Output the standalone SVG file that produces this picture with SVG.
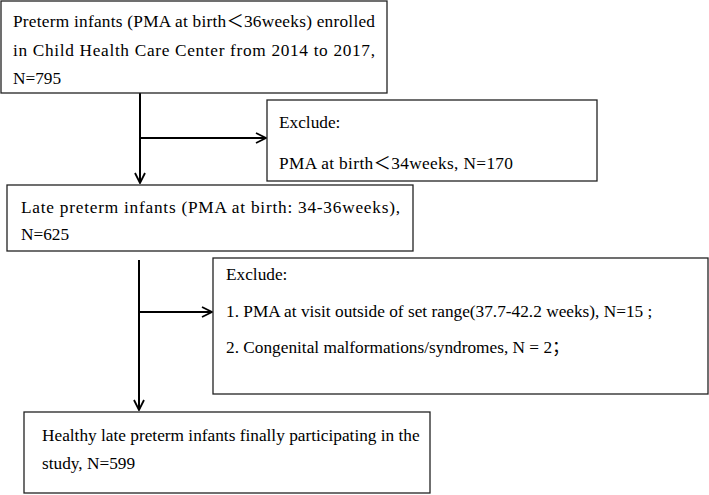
<svg xmlns="http://www.w3.org/2000/svg" width="709" height="495" viewBox="0 0 709 495">
<style>
.box{fill:#fff;stroke:#222;stroke-width:1.3}
.t{font-family:"Liberation Serif","Times New Roman","Noto Sans CJK SC",serif;font-size:17.3px;fill:#000}
.c{stroke:#000;stroke-width:2;fill:none}
</style>
<defs>
<marker id="ah" viewBox="0 0 12 12" refX="11" refY="6" markerWidth="12" markerHeight="12" markerUnits="userSpaceOnUse" orient="auto">
<path d="M1,1 L11,6 L1,11" fill="none" stroke="#000" stroke-width="1.8"/>
</marker>
</defs>
<rect width="709" height="495" fill="#fff"/>
<g id="connectors">
<line class="c" x1="140" y1="93" x2="140" y2="183" marker-end="url(#ah)"/>
<line class="c" x1="140" y1="138" x2="266" y2="138" marker-end="url(#ah)"/>
<line class="c" x1="139" y1="260" x2="139" y2="410" marker-end="url(#ah)"/>
<line class="c" x1="139" y1="312" x2="212" y2="312" marker-end="url(#ah)"/>
</g>
<g id="n1">
<rect class="box" x="1" y="1" width="386" height="92"/>
<text class="t" x="13" y="27" textLength="362" lengthAdjust="spacing">Preterm infants (PMA at birth＜36weeks) enrolled</text>
<text class="t" x="13" y="56" textLength="362" lengthAdjust="spacing">in Child Health Care Center from 2014 to 2017,</text>
<text class="t" x="13" y="84">N=795</text>
</g>
<g id="n2">
<rect class="box" x="267" y="100" width="330" height="81"/>
<text class="t" x="279" y="128">Exclude:</text>
<text class="t" x="279" y="169" textLength="234" lengthAdjust="spacing">PMA at birth＜34weeks, N=170</text>
</g>
<g id="n3">
<rect class="box" x="7" y="185" width="406" height="66"/>
<text class="t" x="21" y="213" textLength="379" lengthAdjust="spacing">Late preterm infants (PMA at birth: 34-36weeks),</text>
<text class="t" x="21" y="240">N=625</text>
</g>
<g id="n5">
<rect class="box" x="213" y="258" width="495" height="136"/>
<text class="t" x="226" y="280">Exclude:</text>
<text class="t" x="226" y="317">1. PMA at visit outside of set range(37.7-42.2 weeks), N=15 ;</text>
<text class="t" x="226" y="353">2. Congenital malformations/syndromes, N = 2；</text>
</g>
<g id="n4">
<rect class="box" x="24" y="412" width="406" height="81"/>
<text class="t" x="42" y="441">Healthy late preterm infants finally participating in the</text>
<text class="t" x="42" y="469">study, N=599</text>
</g>
</svg>
